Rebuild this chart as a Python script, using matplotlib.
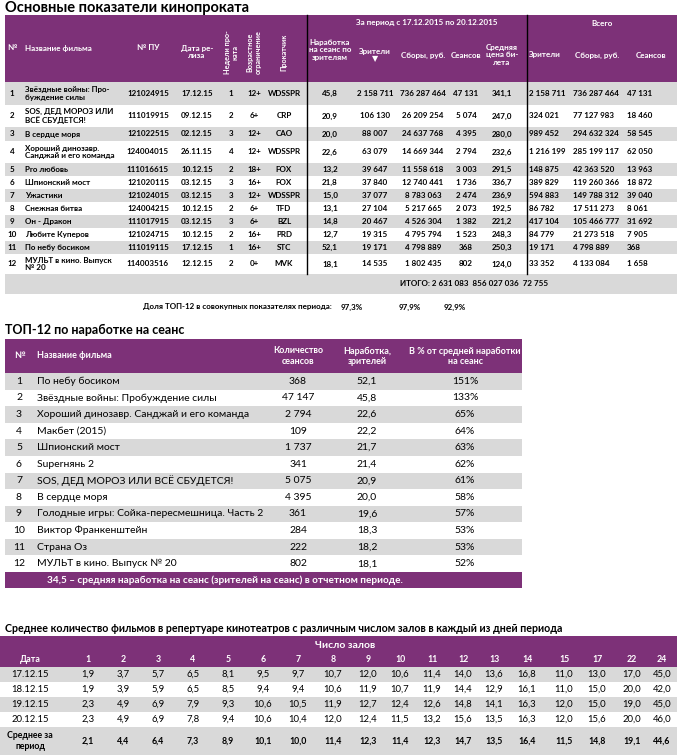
import matplotlib
matplotlib.use('Agg')
import matplotlib.pyplot as plt
from matplotlib.patches import Rectangle

plt.rcParams['font.family'] = ['Lato', 'DejaVu Sans']

PURPLE = '#7d3178'
GREY = '#d9d9d9'

# --- данные: основные показатели ---
top_names = ['Звёздные войны: Про-\nбуждение силы', 'SOS, ДЕД МОРОЗ ИЛИ\nВСЁ СБУДЕТСЯ!', 'В сердце моря',
             'Хороший динозавр.\nСанджай и его команда', 'Pro любовь', 'Шпионский мост', 'Ужастики',
             'Снежная битва', 'Он - Дракон', 'Любите Куперов', 'По небу босиком', 'МУЛЬТ в кино. Выпуск\n№ 20']
top_pu = ['121024915', '111019915', '121022515', '124004015', '111016615', '121020115', '121024015',
          '124004215', '111017915', '121024715', '111019115', '114003516']
top_dates = ['17.12.15', '09.12.15', '02.12.15', '26.11.15', '10.12.15', '03.12.15', '03.12.15',
             '10.12.15', '03.12.15', '10.12.15', '17.12.15', '12.12.15']
top_weeks = [1, 2, 3, 4, 2, 3, 3, 2, 3, 2, 1, 2]
top_age = ['12+', '6+', '12+', '12+', '18+', '16+', '12+', '6+', '6+', '16+', '16+', '0+']
top_dist = ['WDSSPR', 'CRP', 'CAO', 'WDSSPR', 'FOX', 'FOX', 'WDSSPR', 'TFD', 'BZL', 'PRD', 'STC', 'MVK']
top_per_session = [45.8, 20.9, 20.0, 22.6, 13.2, 21.8, 15.0, 13.1, 14.8, 12.7, 52.1, 18.1]
top_viewers = [2158711, 106130, 88007, 63079, 39647, 37840, 37077, 27104, 20467, 19315, 19171, 14535]
top_gross = [736287464, 26209254, 24637768, 14669344, 11558618, 12740441, 8783063, 5217665, 4526304,
             4795794, 4798889, 1802435]
top_sessions = [47131, 5074, 4395, 2794, 3003, 1736, 2474, 2073, 1382, 1523, 368, 802]
top_price = [341.1, 247.0, 280.0, 232.6, 291.5, 336.7, 236.9, 192.5, 221.2, 248.3, 250.3, 124.0]
all_viewers = [2158711, 324021, 989452, 1216199, 148875, 389829, 594883, 86782, 417104, 84779, 19171, 33352]
all_gross = [736287464, 77127983, 294632324, 285199117, 42363520, 119260366, 149788312, 17511273,
             105466777, 21273518, 4798889, 4133084]
all_sessions = [47131, 18460, 58545, 62050, 13963, 18872, 39040, 8061, 31692, 7905, 368, 1658]
total_viewers, total_gross, total_sessions = 2631083, 856027036, 72755
share = ['97,3%', '97,9%', '92,9%']

# --- данные: ТОП-12 по наработке ---
rank_names = ['По небу босиком', 'Звёздные войны: Пробуждение силы', 'Хороший динозавр. Санджай и его команда',
              'Макбет (2015)', 'Шпионский мост', 'Superнянь 2', 'SOS, ДЕД МОРОЗ ИЛИ ВСЁ СБУДЕТСЯ!',
              'В сердце моря', 'Голодные игры: Сойка-пересмешница. Часть 2', 'Виктор Франкенштейн',
              'Страна Оз', 'МУЛЬТ в кино. Выпуск № 20']
rank_sessions = [368, 47147, 2794, 109, 1737, 341, 5075, 4395, 361, 284, 222, 802]
rank_per_session = [52.1, 45.8, 22.6, 22.2, 21.7, 21.4, 20.9, 20.0, 19.6, 18.3, 18.2, 18.1]
rank_pct = [151, 133, 65, 64, 63, 62, 61, 58, 57, 53, 53, 52]
avg_per_session = 34.5

# --- данные: количество фильмов по числу залов ---
halls = [1, 2, 3, 4, 5, 6, 7, 8, 9, 10, 11, 12, 13, 14, 15, 17, 22, 24]
hall_dates = ['17.12.15', '18.12.15', '19.12.15', '20.12.15']
hall_values = [
    [1.9, 3.7, 5.7, 6.5, 8.1, 9.5, 9.7, 10.7, 12.0, 10.6, 11.4, 14.0, 13.6, 16.8, 11.0, 13.0, 17.0, 45.0],
    [1.9, 3.9, 5.9, 6.5, 8.5, 9.4, 9.4, 10.6, 11.9, 10.7, 11.9, 14.4, 12.9, 16.1, 11.0, 15.0, 20.0, 42.0],
    [2.3, 4.9, 6.9, 7.9, 9.3, 10.6, 10.5, 11.9, 12.7, 12.4, 12.6, 14.8, 14.1, 16.3, 12.0, 15.0, 19.0, 45.0],
    [2.3, 4.9, 6.9, 7.8, 9.4, 10.6, 10.4, 12.0, 12.4, 11.5, 13.2, 15.6, 13.5, 16.3, 12.0, 15.6, 20.0, 46.0],
]
hall_avg = [2.1, 4.4, 6.4, 7.3, 8.9, 10.1, 10.0, 11.4, 12.3, 11.4, 12.3, 14.7, 13.5, 16.4, 11.5, 14.8, 19.1, 44.6]


def fint(v):
    return f'{v:,}'.replace(',', ' ')


def ffl(v):
    return f'{v:.1f}'.replace('.', ',')


fig = plt.figure(figsize=(6.77, 7.55), dpi=100)
ax = fig.add_axes([0, 0, 1, 1])
ax.set_xlim(0, 677)
ax.set_ylim(755, 0)
ax.axis('off')


def box(x0, y0, x1, y1, color):
    ax.add_patch(Rectangle((x0, y0), x1 - x0, y1 - y0, facecolor=color, edgecolor='none'))


def t(x, y, s, size=5.8, ha='center', bold=False, color='black', **kw):
    ax.text(x, y, s, fontsize=size, ha=ha, va='center', color=color,
            fontweight='bold' if bold else 'normal', linespacing=1.15, **kw)


# ===== Таблица 1 =====
t(5, 8, 'Основные показатели кинопроката', size=10.5, ha='left', bold=True)
box(5, 15, 677, 82, PURPLE)
W = 'white'
t(12, 48, '№', bold=True, color=W)
t(25, 48, 'Название фильма', ha='left', bold=True, color=W)
t(148, 48, '№ ПУ', bold=True, color=W)
t(197, 52, 'Дата ре-\nлиза', bold=True, color=W)
t(231, 52, 'Недели про-\nката', bold=True, color=W, rotation=90, size=5.2)
t(254, 52, 'Возрастное\nограничение', bold=True, color=W, rotation=90, size=5.2)
t(284, 52, 'Прокатчик', bold=True, color=W, rotation=90, size=5.2)
t(427, 23, 'За период с 17.12.2015 по 20.12.2015', bold=True, color=W)
t(602, 23, 'Всего', bold=True, color=W)
t(330, 50, 'Наработка\nна сеанс по\nзрителям', bold=True, color=W)
t(375, 55, 'Зрители\n▼', bold=True, color=W)
t(423, 55, 'Сборы, руб.', bold=True, color=W)
t(466, 55, 'Сеансов', bold=True, color=W)
t(502, 55, 'Средняя\nцена би-\nлета', bold=True, color=W)
t(545, 55, 'Зрители', bold=True, color=W)
t(597, 55, 'Сборы, руб.', bold=True, color=W)
t(651, 55, 'Сеансов', bold=True, color=W)

heights = [23, 22, 14, 22, 13, 13, 13, 13, 13, 13, 13, 20]
y = 82
for i, h in enumerate(heights):
    if i % 2 == 0:
        box(5, y, 677, y + h, GREY)
    yc = y + h / 2
    t(12, yc, str(i + 1), bold=True)
    t(25, yc, top_names[i], ha='left', bold=True)
    t(148, yc, top_pu[i], bold=True)
    t(197, yc, top_dates[i], bold=True)
    t(231, yc, str(top_weeks[i]), bold=True)
    t(254, yc, top_age[i], bold=True)
    t(284, yc, top_dist[i], bold=True)
    t(330, yc, ffl(top_per_session[i]), bold=True)
    t(375, yc, fint(top_viewers[i]), bold=True)
    t(423, yc, fint(top_gross[i]), bold=True)
    t(466, yc, fint(top_sessions[i]), bold=True)
    t(502, yc, ffl(top_price[i]), bold=True)
    t(529, yc, fint(all_viewers[i]), ha='left', bold=True)
    t(573, yc, fint(all_gross[i]), ha='left', bold=True)
    t(627, yc, fint(all_sessions[i]), ha='left', bold=True)
    y += h
ax.plot([307, 307], [15, y], color='black', lw=1)
ax.plot([527, 527], [15, y], color='black', lw=1)
box(5, y, 677, y + 20, GREY)
t(400, y + 10, f'ИТОГО: {fint(total_viewers)}  {fint(total_gross)}  {fint(total_sessions)}',
  ha='left', bold=True)
t(143, y + 33, 'Доля ТОП-12 в совокупных показателях периода:', ha='left', bold=True)
for xx, s in zip([352, 410, 455], share):
    t(xx, y + 33, s, bold=True)

# ===== Таблица 2 =====
t(5, 330, 'ТОП-12 по наработке на сеанс', size=9, ha='left', bold=True)
box(5, 339, 522, 373, PURPLE)
t(19, 356, '№', bold=True, color=W, size=6.5)
t(37, 356, 'Название фильма', ha='left', bold=True, color=W, size=6.5)
t(298, 356, 'Количество\nсеансов', bold=True, color=W, size=6.5)
t(367, 356, 'Наработка,\nзрителей', bold=True, color=W, size=6.5)
t(465, 356, 'В % от средней наработки\nна сеанс', bold=True, color=W, size=6.5)
rh = (572 - 373) / len(rank_names)
for i in range(len(rank_names)):
    y0 = 373 + i * rh
    if i % 2 == 0:
        box(5, y0, 522, y0 + rh, GREY)
    yc = y0 + rh / 2
    t(19, yc, str(i + 1), size=7.5)
    t(37, yc, rank_names[i], ha='left', size=7.5)
    t(298, yc, fint(rank_sessions[i]), size=7.5)
    t(367, yc, ffl(rank_per_session[i]), size=7.5)
    t(465, yc, f'{rank_pct[i]}%', size=7.5)
box(5, 572, 522, 588, PURPLE)
t(47, 580, f'{ffl(avg_per_session)} – средняя наработка на сеанс (зрителей на сеанс) в отчетном периоде.',
  ha='left', bold=True, color=W, size=7.2)

# ===== Таблица 3 =====
t(5, 628, 'Среднее количество фильмов в репертуаре кинотеатров с различным числом залов в каждый из дней периода',
  size=7.7, ha='left', bold=True)
box(0, 636, 677, 667, PURPLE)
hall_x = [88, 123, 158, 193, 228, 263, 298, 333, 368, 400, 432, 463, 494, 527, 564, 597, 632, 662]
t(345, 645, 'Число залов', bold=True, color=W, size=7.5)
t(30, 660, 'Дата', bold=True, color=W, size=6.3)
for hx, hv in zip(hall_x, halls):
    t(hx, 659, str(hv), bold=True, color=W, size=6.3)
for r, d in enumerate(hall_dates):
    y0 = 667 + r * 15
    if r % 2 == 0:
        box(0, y0, 677, y0 + 15, GREY)
    t(30, y0 + 7.5, d, size=6.8)
    for hx, v in zip(hall_x, hall_values[r]):
        t(hx, y0 + 7.5, ffl(v), size=6.8)
box(0, 727, 677, 755, GREY)
t(30, 741, 'Среднее за\nпериод', bold=True, size=6.3)
for hx, v in zip(hall_x, hall_avg):
    t(hx, 741, ffl(v), bold=True, size=6.3)

plt.savefig('out.png', dpi=100)
